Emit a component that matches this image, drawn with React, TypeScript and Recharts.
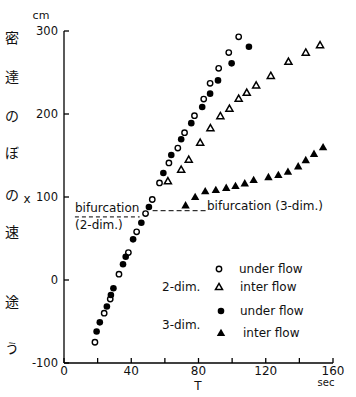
import React from 'react';
import { ScatterChart, Scatter, XAxis, YAxis, ReferenceLine } from 'recharts';

const W = 356;
const H = 397;
const FONT = '"DejaVu Sans", "Liberation Sans", sans-serif';
const CJK = '"Noto Sans CJK JP", sans-serif';

// [T (sec), x (cm)]
const twoDimUnder: number[][] = [
  [18.4, -75], [23.9, -40], [27.5, -23], [32.7, 7], [38.3, 33], [43.2, 58],
  [48.5, 80], [52.5, 97], [56.8, 117], [62.4, 141], [67.7, 159], [71.7, 177.5],
  [77.6, 198], [83.1, 218], [86.9, 237], [92, 255], [98, 274], [103.9, 293],
];
const twoDimInter: number[][] = [
  [61.8, 119], [69.7, 133], [74.2, 145], [81, 165.5], [87.1, 183], [93, 197.5],
  [98.4, 206.5], [103.9, 218.5], [108.7, 225.7], [114.3, 234.5], [123, 246],
  [133.5, 263], [143.8, 274], [152.3, 283],
];
const threeDimUnder: number[][] = [
  [19.4, -62], [21.3, -51], [25.5, -32], [27.9, -18], [29.4, -10], [35.1, 19],
  [36.7, 28], [41.1, 49], [46, 69], [50.5, 88], [59.1, 129], [63.8, 150.6],
  [69.7, 169.5], [75.7, 189], [82.2, 208.5], [86.9, 224.5], [91.6, 240.5],
  [99.7, 261], [110, 281],
];
const threeDimInter: number[][] = [
  [72.3, 90], [78, 100], [84, 107], [90.3, 108.5], [96.5, 111], [102, 113.3],
  [107.5, 116.5], [112.8, 120.5], [121.6, 124], [127.5, 126.5], [133.2, 130.5],
  [139.3, 137], [143.8, 144.5], [148.7, 152], [154.1, 160],
];

const xTicks = [0, 20, 40, 60, 80, 100, 120, 140, 160];
const xLabelTicks = [0, 40, 80, 120, 160];
const yTicks = [-100, 0, 100, 200, 300];

// bifurcation levels (annotation)
const bif3Segment = [{ t: 52.7, x: 83.5 }, { t: 85.5, x: 83.5 }];
const bif2Underline = [{ t: 6.5, x: 76 }, { t: 45, x: 76 }];

const marginTexts = [
  { ch: '密', y: 38 }, { ch: '達', y: 77 }, { ch: 'の', y: 116 }, { ch: 'ぼ', y: 153 },
  { ch: 'の', y: 195 }, { ch: '速', y: 232 }, { ch: '途', y: 302 }, { ch: 'う', y: 348 },
];

const toPts = (arr: number[][]) => arr.map(([t, x]) => ({ t, x }));

const triPath = (cx: number, cy: number, s: number) =>
  `M${cx},${cy - s} L${cx + s * 0.98},${cy + s * 0.72} L${cx - s * 0.98},${cy + s * 0.72} Z`;

const OpenCircle = (p: any) => (
  <circle cx={p.cx} cy={p.cy} r={2.7} fill="#fff" stroke="#000" strokeWidth={1.4} />
);
const FilledCircle = (p: any) => <circle cx={p.cx} cy={p.cy} r={3.3} fill="#000" />;
const OpenTri = (p: any) => (
  <path d={triPath(p.cx, p.cy, 3.6)} fill="#fff" stroke="#000" strokeWidth={1.5} />
);
const FilledTri = (p: any) => <path d={triPath(p.cx, p.cy, 4.3)} fill="#000" />;

const YTick = (props: any) => {
  const { x, y, payload } = props;
  return (
    <g>
      <line x1={x} y1={y} x2={x + 5} y2={y} stroke="#000" strokeWidth={1.3} />
      <text x={x - 6} y={y} dy="0.36em" textAnchor="end" fontSize={11.5} fontFamily={FONT} fill="#111">
        {payload.value}
      </text>
    </g>
  );
};

const XTick = (props: any) => {
  const { x, y, payload } = props;
  return (
    <g>
      <line x1={x} y1={y} x2={x} y2={y - 5} stroke="#000" strokeWidth={1.3} />
      {xLabelTicks.includes(payload.value) && (
        <text x={x} y={y + 12} textAnchor="middle" fontSize={12} fontFamily={FONT} fill="#111">
          {payload.value}
        </text>
      )}
    </g>
  );
};

const txt = (x: number, y: number, s: string, anchor: string = 'start', size: number = 12) => (
  <text x={x} y={y} textAnchor={anchor as any} fontSize={size} fontFamily={FONT} fill="#111">
    {s}
  </text>
);

export default function App() {
  return (
    <div style={{ position: 'absolute', left: 0, top: 0, width: W, height: H, background: '#fff' }}>
      <ScatterChart width={W} height={H} margin={{ top: 31, right: 23, bottom: 4, left: 24 }}>
        <XAxis
          type="number"
          dataKey="t"
          domain={[0, 160]}
          ticks={xTicks}
          height={30}
          tickSize={0}
          tickMargin={0}
          tickLine={false}
          axisLine={{ stroke: '#000', strokeWidth: 1.3 }}
          tick={<XTick />}
          interval={0}
        />
        <YAxis
          type="number"
          dataKey="x"
          domain={[-100, 300]}
          ticks={yTicks}
          width={40}
          tickSize={0}
          tickMargin={0}
          tickLine={false}
          axisLine={{ stroke: '#000', strokeWidth: 1.3 }}
          tick={<YTick />}
          interval={0}
        />
        <ReferenceLine segment={bif3Segment.map((p) => ({ x: p.t, y: p.x }))} stroke="#000" strokeWidth={1} strokeDasharray="5 3" />
        <ReferenceLine segment={bif2Underline.map((p) => ({ x: p.t, y: p.x }))} stroke="#000" strokeWidth={1} strokeDasharray="4 3" />
        <Scatter data={toPts(twoDimUnder)} shape={OpenCircle} isAnimationActive={false} />
        <Scatter data={toPts(twoDimInter)} shape={OpenTri} isAnimationActive={false} />
        <Scatter data={toPts(threeDimUnder)} shape={FilledCircle} isAnimationActive={false} />
        <Scatter data={toPts(threeDimInter)} shape={FilledTri} isAnimationActive={false} />
      </ScatterChart>
      <svg width={W} height={H} style={{ position: 'absolute', left: 0, top: 0, pointerEvents: 'none' }}>
        {marginTexts.map((m, i) => (
          <text key={i} x={12} y={m.y} dy="0.36em" textAnchor="middle" fontSize={14} fontFamily={CJK} fill="#111">
            {m.ch}
          </text>
        ))}
        {txt(41, 19, 'cm', 'middle', 11)}
        {txt(27, 203, 'x', 'middle', 12)}
        {txt(75, 212, 'bifurcation')}
        {txt(75, 229, '(2-dim.)')}
        {txt(207, 210, 'bifurcation (3-dim.)')}
        {txt(162, 291, '2-dim.')}
        {txt(162, 329, '3-dim.')}
        <OpenCircle cx={219} cy={269} />
        <OpenTri cx={219} cy={287} />
        <FilledCircle cx={221} cy={311} />
        <FilledTri cx={221} cy={333} />
        {txt(239, 273, 'under flow')}
        {txt(240, 291, 'inter flow')}
        {txt(240, 315, 'under flow')}
        {txt(243, 337, 'inter flow')}
        {txt(198, 390, 'T', 'middle', 12)}
        {txt(326, 386, 'sec', 'middle', 10)}
      </svg>
    </div>
  );
}
